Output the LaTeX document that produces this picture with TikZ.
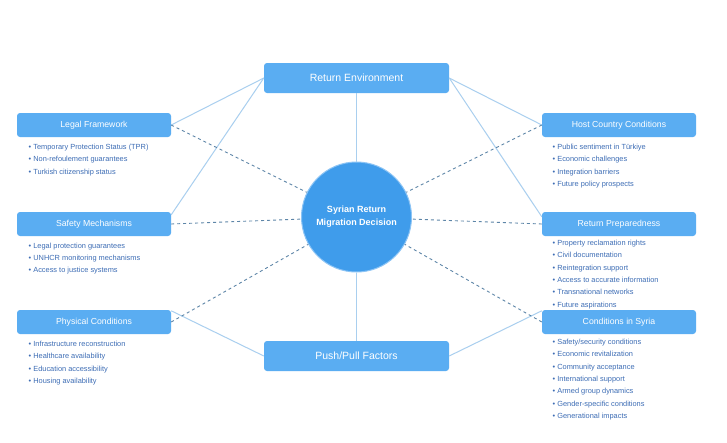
\documentclass[tikz,border=0pt]{standalone}
\usepackage{fontspec}
\setmainfont{Liberation Sans}
\definecolor{boxblue}{HTML}{5AADF2}
\definecolor{hubblue}{HTML}{3F9CEB}
\definecolor{hubrim}{HTML}{8CC4F5}
\definecolor{linkblue}{HTML}{A9CFEF}
\definecolor{dashgray}{HTML}{5E86A8}
\definecolor{itemblue}{HTML}{3D6DB5}
\begin{document}
\begin{tikzpicture}[x=1pt, y=-1pt,
		topbox/.style={fill=boxblue, text=white, rounded corners=3pt, minimum width=185pt, minimum height=30pt, font=\fontsize{10.5}{12}\selectfont},
		sidebox/.style={fill=boxblue, text=white, rounded corners=3pt, minimum width=154pt, minimum height=24pt, font=\fontsize{8.7}{10}\selectfont},
		hub/.style={circle, fill=hubblue, draw=hubrim, line width=1pt, minimum size=110pt, inner sep=0pt, text=white, align=center, font=\bfseries\fontsize{9}{13}\selectfont},
		items/.style={anchor=north west, inner sep=0pt, align=left, text=itemblue, font=\fontsize{7.4}{12.3}\selectfont},
		solidlink/.style={draw=linkblue, line width=1pt},
		dashlink/.style={draw=dashgray, line width=0.9pt, dash pattern=on 3pt off 3pt}]
	\useasboundingbox[fill=white] (0,0) rectangle (727,442);
	
	% boxes
	\node[topbox] (env) at (356.5, 78) {Return Environment};
	\node[topbox] (push) at (356.5, 356) {Push/Pull Factors};
	\node[hub] (hub) at (356.5, 217) {Syrian Return\\Migration Decision};
	
	\node[sidebox] (legal) at (94, 125) {Legal Framework};
	\node[sidebox] (safety) at (94, 224) {Safety Mechanisms};
	\node[sidebox] (physical) at (94, 322) {Physical Conditions};
	
	\node[sidebox] (host) at (619, 125) {Host Country Conditions};
	\node[sidebox] (prep) at (619, 224) {Return Preparedness};
	\node[sidebox] (syria) at (619, 322) {Conditions in Syria};
	
	% connectors
	\draw[solidlink] (env.south) -- (hub.north);
	\draw[solidlink] (hub.south) -- (push.north);
	\draw[solidlink] (env.west) -- (legal.east);
	\draw[solidlink] (env.west) -- ([yshift=-3pt]safety.north east);
	\draw[solidlink] (push.west) -- ([yshift=-1pt]physical.north east);
	\draw[solidlink] (env.east) -- (host.west);
	\draw[solidlink] (env.east) -- ([yshift=-5pt]prep.north west);
	\draw[solidlink] (push.east) -- ([yshift=-1pt]syria.north west);
	
	\draw[dashlink] (legal.east) -- (hub);
	\draw[dashlink] (safety.east) -- (hub);
	\draw[dashlink] (physical.east) -- (hub);
	\draw[dashlink] (host.west) -- (hub);
	\draw[dashlink] (prep.west) -- (hub);
	\draw[dashlink] (syria.west) -- (hub);
	
	% lists
	\node[items] (legallist) at (28.5, 144) {• Temporary Protection Status (TPR)\\• Non-refoulement guarantees\\• Turkish citizenship status};
	\node[items] (safetylist) at (28.5, 242.5) {• Legal protection guarantees\\• UNHCR monitoring mechanisms\\• Access to justice systems};
	\node[items] (physicallist) at (28.5, 341) {• Infrastructure reconstruction\\• Healthcare availability\\• Education accessibility\\• Housing availability};
	
	\node[items] (hostlist) at (552.5, 144) {• Public sentiment in Türkiye\\• Economic challenges\\• Integration barriers\\• Future policy prospects};
	\node[items] (preplist) at (552.5, 240) {• Property reclamation rights\\• Civil documentation\\• Reintegration support\\• Access to accurate information\\• Transnational networks\\• Future aspirations};
	\node[items] (syrialist) at (552.5, 339) {• Safety/security conditions\\• Economic revitalization\\• Community acceptance\\• International support\\• Armed group dynamics\\• Gender-specific conditions\\• Generational impacts};
\end{tikzpicture}
\end{document}
